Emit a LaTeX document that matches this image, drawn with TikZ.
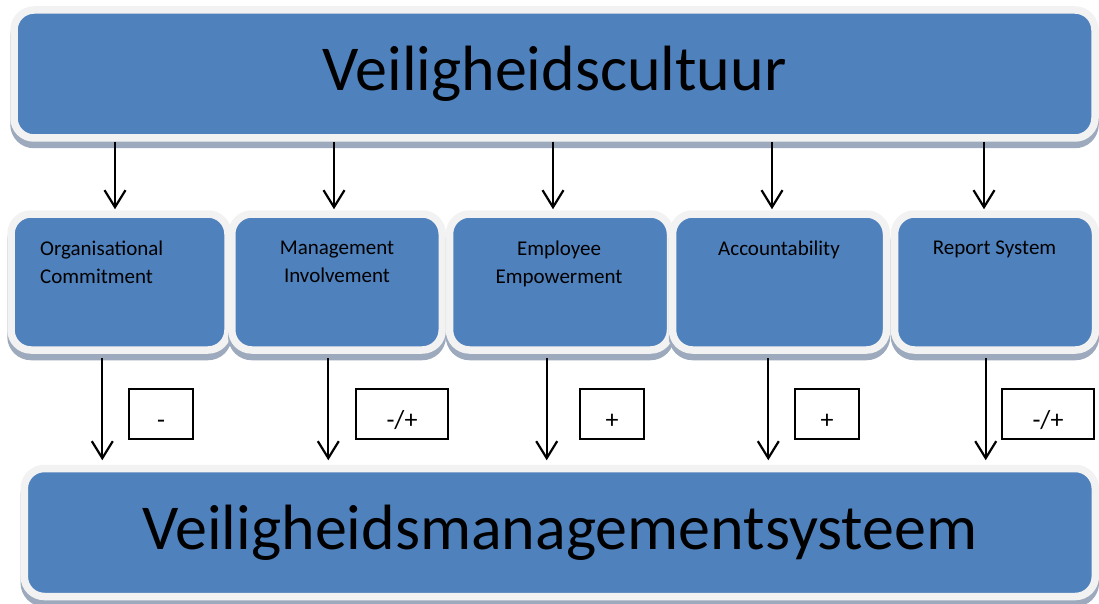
\documentclass[tikz,border=0pt]{standalone}
\usepackage{fontspec}
\setmainfont{Carlito}
\usetikzlibrary{arrows.meta}
\definecolor{boxblue}{HTML}{4F81BD}
\definecolor{rimcol}{HTML}{F2F2F2}
\definecolor{shadowcol}{HTML}{9DAABD}
\begin{document}
\begin{tikzpicture}[x=1pt,y=-1pt,
  bluebox/.style={rectangle, rounded corners=20pt, fill=boxblue, draw=rimcol,
    line width=7.5pt, inner sep=0pt,
    preaction={draw=shadowcol, fill=shadowcol, line width=7.5pt,
      transform canvas={yshift=-6.5pt}}},
  bigtext/.style={font=\fontsize{64}{76}\selectfont},
  smalltext/.style={font=\fontsize{21}{28}\selectfont, inner sep=0pt, align=center},
  lbl/.style={rectangle, draw=black, line width=1.8pt, fill=white, inner sep=0pt,
    minimum height=50pt, text height=29pt, text depth=0pt,
    font=\fontsize{26}{30}\selectfont},
  arr/.style={draw=black, line width=2.2pt, -{Straight Barb[length=17pt, width=21pt]}}]
\useasboundingbox (0,0) rectangle (1099,604);

% boxes
\node[bluebox, bigtext, minimum width=1081pt, minimum height=128pt] (top) at (554.5,74) {Veiligheidscultuur};
\node[bluebox, minimum width=217pt, minimum height=136pt] (m1) at (119.5,282) {};
\node[bluebox, minimum width=210.5pt, minimum height=136pt] (m2) at (337,282) {};
\node[bluebox, minimum width=221pt, minimum height=136pt] (m3) at (560,282) {};
\node[bluebox, minimum width=214pt, minimum height=136pt] (m4) at (779.5,282) {};
\node[bluebox, minimum width=201pt, minimum height=136pt] (m5) at (995,282) {};
\node[bluebox, bigtext, minimum width=1071pt, minimum height=128pt] (bot) at (559.8,532.5) {Veiligheidsmanagementsysteem};

% box texts
\node[smalltext, anchor=north west, align=left] (t1) at (40,240.5) {Organisational\\Commitment};
\node[smalltext, anchor=north] (t2) at (337,240.5) {Management\\Involvement};
\node[smalltext, anchor=north] (t3) at (559,240.5) {Employee\\Empowerment};
\node[smalltext, anchor=north] (t4) at (779,240.5) {Accountability};
\node[smalltext, anchor=north] (t5) at (994.5,240.5) {Report System};

% top arrows
\coordinate (a1) at ([xshift=-4.5pt]m1.north);
\coordinate (a2) at ([xshift=-3pt]m2.north);
\coordinate (a3) at ([xshift=-7pt]m3.north);
\coordinate (a4) at ([xshift=-7.5pt]m4.north);
\coordinate (a5) at ([xshift=-11pt]m5.north);
\foreach \i in {1,...,5}{
  \draw[arr, shorten >=1pt] (top.south -| a\i) -- (a\i);
}

% bottom arrows
\coordinate (b1) at ([xshift=-17.2pt]m1.south);
\coordinate (b2) at ([xshift=-8.7pt]m2.south);
\coordinate (b3) at ([xshift=-13.3pt]m3.south);
\coordinate (b4) at ([xshift=-11.2pt]m4.south);
\coordinate (b5) at ([xshift=-9.3pt]m5.south);
\foreach \i in {1,...,5}{
  \draw[arr, shorten <=4.5pt, shorten >=4.5pt] (b\i) -- (bot.north -| b\i);
}

% labels
\node[lbl, minimum width=64pt] (l1) at (161,414) {-};
\node[lbl, minimum width=92pt] (l2) at (402,414) {-/+};
\node[lbl, minimum width=64pt] (l3) at (612,414) {+};
\node[lbl, minimum width=64pt] (l4) at (827,414) {+};
\node[lbl, minimum width=92pt] (l5) at (1048,414) {-/+};
\end{tikzpicture}
\end{document}
